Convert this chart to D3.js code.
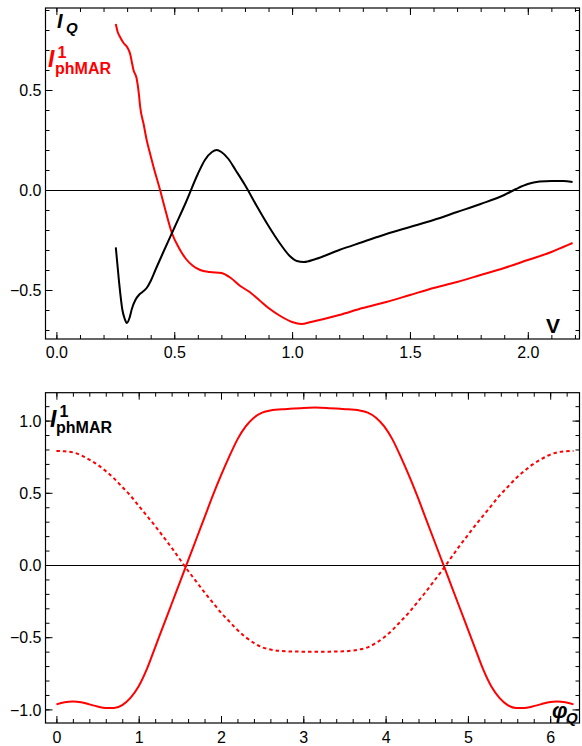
<!DOCTYPE html>
<html><head><meta charset="utf-8">
<script src="https://cdn.jsdelivr.net/npm/d3@7"></script>
<style>
body{margin:0;background:#fff;}
svg{display:block;}
text{font-family:"Liberation Sans",Arial,sans-serif;}
</style></head>
<body>
<svg id="c" width="582" height="746"></svg>
<script>
// ---------- Top panel data: I_Q (black) and I^1_phMAR (red) vs V ----------
const topV_IQ = [0.252,0.265,0.28,0.29,0.299,0.31,0.32,0.335,0.35,0.365,0.383,0.40,0.42,0.45,0.50,0.55,0.60,0.63,0.66,0.68,0.70,0.73,0.76,0.80,0.85,0.90,0.95,0.99,1.02,1.05,1.10,1.20,1.30,1.40,1.50,1.60,1.70,1.80,1.90,1.95,2.00,2.05,2.10,2.15,2.19];
const topIQ   = [-0.287,-0.45,-0.60,-0.645,-0.665,-0.64,-0.595,-0.55,-0.525,-0.51,-0.49,-0.455,-0.40,-0.32,-0.19,-0.06,0.08,0.15,0.19,0.20,0.19,0.155,0.10,0.025,-0.08,-0.18,-0.27,-0.33,-0.355,-0.36,-0.345,-0.30,-0.26,-0.22,-0.185,-0.15,-0.11,-0.07,-0.025,0.005,0.03,0.042,0.045,0.045,0.04];
const topV_ph = [0.252,0.26,0.27,0.285,0.30,0.313,0.32,0.327,0.34,0.35,0.355,0.37,0.383,0.40,0.411,0.44,0.46,0.49,0.52,0.55,0.58,0.61,0.65,0.70,0.74,0.78,0.82,0.86,0.90,0.95,1.00,1.04,1.08,1.20,1.30,1.40,1.50,1.60,1.70,1.80,1.90,2.00,2.10,2.15,2.19];
const topPh   = [0.83,0.79,0.765,0.735,0.715,0.68,0.64,0.60,0.56,0.48,0.42,0.33,0.25,0.17,0.12,0.0,-0.09,-0.215,-0.29,-0.345,-0.38,-0.40,-0.41,-0.415,-0.44,-0.48,-0.51,-0.55,-0.59,-0.63,-0.66,-0.67,-0.66,-0.625,-0.59,-0.56,-0.525,-0.49,-0.46,-0.425,-0.39,-0.35,-0.31,-0.285,-0.265];
const topXTicks = [0.0,0.5,1.0,1.5,2.0];
const topYTicks = [-0.5,0.0,0.5];

// ---------- Bottom panel data: I^1_phMAR vs phi_Q ----------
const phi = [0,0.1,0.2,0.3,0.4,0.5,0.6,0.7,0.8,0.9,1.0,1.1,1.2,1.3,1.4,1.5,1.6,1.7,1.8,1.9,2.0,2.1,2.2,2.3,2.4,2.5,2.6,2.8,3.0,3.1416,3.2832,3.4832,3.6832,3.7832,3.8832,3.9832,4.0832,4.1832,4.2832,4.3832,4.4832,4.5832,4.6832,4.7832,4.8832,4.9832,5.0832,5.1832,5.2832,5.3832,5.4832,5.5832,5.6832,5.7832,5.8832,5.9832,6.0832,6.1832,6.2832];
const solid = [-0.965,-0.95,-0.945,-0.95,-0.965,-0.98,-0.99,-0.99,-0.97,-0.92,-0.84,-0.72,-0.57,-0.42,-0.27,-0.12,0.03,0.18,0.33,0.48,0.62,0.75,0.87,0.96,1.02,1.055,1.07,1.08,1.088,1.09,1.088,1.08,1.07,1.055,1.02,0.96,0.87,0.75,0.62,0.48,0.33,0.18,0.03,-0.12,-0.27,-0.42,-0.57,-0.72,-0.84,-0.92,-0.97,-0.99,-0.99,-0.98,-0.965,-0.95,-0.945,-0.95,-0.965];
const dashed = [0.79,0.787,0.78,0.76,0.73,0.695,0.65,0.60,0.54,0.48,0.41,0.34,0.27,0.195,0.12,0.04,-0.04,-0.115,-0.19,-0.26,-0.33,-0.39,-0.45,-0.50,-0.54,-0.57,-0.585,-0.598,-0.6,-0.6,-0.6,-0.598,-0.585,-0.57,-0.54,-0.50,-0.45,-0.39,-0.33,-0.26,-0.19,-0.115,-0.04,0.04,0.12,0.195,0.27,0.34,0.41,0.48,0.54,0.60,0.65,0.695,0.73,0.76,0.78,0.787,0.79];
const botXTicks = [0,1,2,3,4,5,6];
const botYTicks = [-1.0,-0.5,0.0,0.5,1.0];

const svg = d3.select("#c");
const RED = "#ff0000";

function panel(cfg){
  const g = svg.append("g");
  const x = d3.scaleLinear().domain(cfg.xd).range([cfg.L, cfg.R]);
  const y = d3.scaleLinear().domain(cfg.yd).range([cfg.B, cfg.T]);
  const W = cfg.R - cfg.L, H = cfg.B - cfg.T;
  const mk = (axisFn, scale, ticks, size, tr, fmt) => {
    const a = axisFn(scale).tickValues(ticks).tickSizeInner(size).tickSizeOuter(0).tickPadding(4);
    a.tickFormat(fmt || (()=>""));
    const ag = g.append("g").attr("transform", tr).call(a);
    ag.select(".domain").remove();
    ag.selectAll("line").attr("stroke","#000").attr("stroke-width",1);
    ag.selectAll("text").attr("fill","#000").style("font-size","16px").style("font-family","'Liberation Sans',Arial,sans-serif");
    return ag;
  };
  const xr = x.domain(), yr = y.domain();
  const xminor = d3.range(Math.ceil(xr[0]/cfg.xm), Math.floor(xr[1]/cfg.xm)+1).map(i=>+(i*cfg.xm).toFixed(4));
  const yminor = d3.range(Math.ceil(yr[0]/cfg.ym), Math.floor(yr[1]/cfg.ym)+1).map(i=>+(i*cfg.ym).toFixed(4));
  mk(d3.axisBottom, x, xminor, -4, `translate(0,${cfg.B})`);
  mk(d3.axisTop, x, xminor, -4, `translate(0,${cfg.T})`);
  mk(d3.axisLeft, y, yminor, -4, `translate(${cfg.L},0)`);
  mk(d3.axisRight, y, yminor, -4, `translate(${cfg.R},0)`);
  const xl = mk(d3.axisBottom, x, cfg.xt, -7, `translate(0,${cfg.B})`, cfg.xf);
  xl.selectAll("text").attr("y", cfg.xLabY).attr("dy", null);
  mk(d3.axisTop, x, cfg.xt, -7, `translate(0,${cfg.T})`);
  const yl = mk(d3.axisLeft, y, cfg.yt, -7, `translate(${cfg.L},0)`, cfg.yf);
  yl.selectAll("text").attr("x", -4).attr("dy","0.36em");
  mk(d3.axisRight, y, cfg.yt, -7, `translate(${cfg.R},0)`);
  g.append("line").attr("x1",cfg.L).attr("x2",cfg.R).attr("y1",Math.round(y(0))+0.5).attr("y2",Math.round(y(0))+0.5)
    .attr("stroke","#000").attr("stroke-width",1);
  g.append("rect").attr("x",cfg.L).attr("y",cfg.T).attr("width",W).attr("height",H)
    .attr("fill","none").attr("stroke","#000").attr("stroke-width",1.2);
  return {g,x,y};
}

const fmt1 = d3.format(".1f");
const pTop = panel({L:45.5,R:579.5,T:8,B:339, xd:[(45.5-56.4)/235.7,(579.5-56.4)/235.7], yd:[-(339-190)/200,(190-8)/200],
  xm:0.1, ym:0.1, xt:topXTicks, yt:topYTicks, xf:fmt1, yf:fmt1, xLabY:19});
const pBot = panel({L:45.5,R:579.5,T:392.7,B:723, xd:[(45.5-56.4)/82.3,(579.5-56.4)/82.3], yd:[-(723-565)/144.4,(565-392.7)/144.4],
  xm:0.2, ym:0.1, xt:botXTicks, yt:botYTicks, xf:d3.format("d"), yf:fmt1, xLabY:20});

function drawLine(p, xs, ys, color, dash){
  const line = d3.line().x(d=>p.x(d[0])).y(d=>p.y(d[1])).curve(d3.curveMonotoneX);
  p.g.append("path").datum(xs.map((v,i)=>[v,ys[i]])).attr("d",line)
    .attr("fill","none").attr("stroke",color).attr("stroke-width",2)
    .attr("stroke-linejoin","round").attr("stroke-dasharray",dash||null);
}
drawLine(pTop, topV_ph, topPh, RED);
drawLine(pTop, topV_IQ, topIQ, "#000");
drawLine(pBot, phi, dashed, RED, "3.5,3");
drawLine(pBot, phi, solid, RED);

function txt(x,y,s,size,color,opts={}){
  svg.append("text").attr("x",x).attr("y",y).text(s).attr("fill",color)
    .style("font-size",size+"px").style("font-weight",opts.w||"bold")
    .style("font-style",opts.i?"italic":"normal").attr("text-anchor",opts.a||"start");
}
txt(57,28,"I",20,"#000",{i:true});
txt(66,33,"Q",15,"#000",{i:true});
txt(48,67,"I",23,RED,{i:true});
txt(57.5,58,"1",16,RED);
txt(55,74,"phMAR",16,RED);
txt(553,333,"V",21,"#000",{a:"middle"});
txt(50,427,"I",23,"#000",{i:true});
txt(59.5,417,"1",16,"#000");
txt(56,433,"phMAR",16,"#000");
txt(552,718,"φ",22,"#000",{i:true});
txt(566,723,"Q",15,"#000",{i:true});
</script>
</body></html>
